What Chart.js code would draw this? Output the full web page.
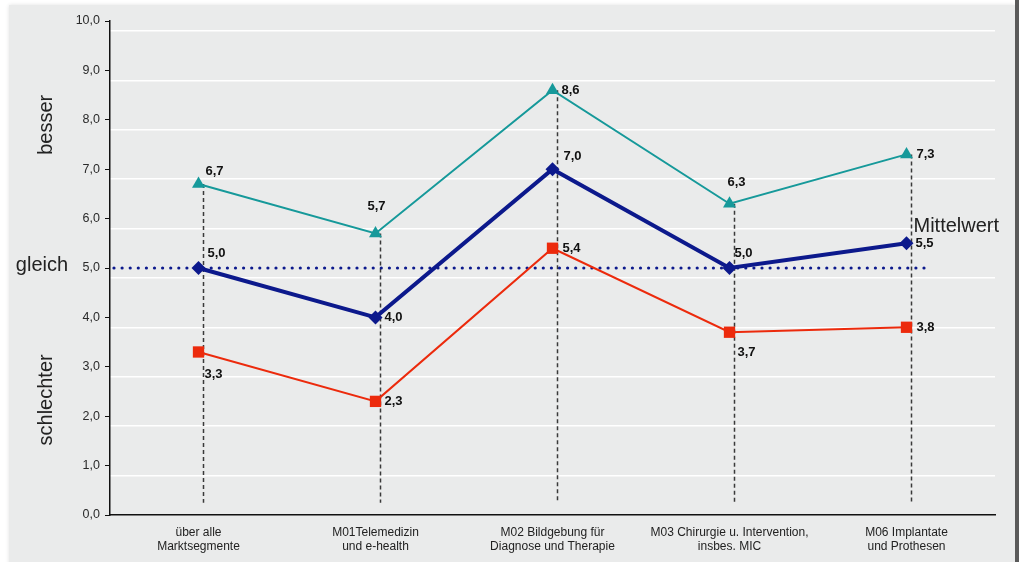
<!DOCTYPE html>
<html>
<head>
<meta charset="utf-8">
<script src="https://cdn.jsdelivr.net/npm/chart.js@4/dist/chart.umd.min.js"></script>
<style>
  html, body { margin: 0; padding: 0; background: #ffffff; }
  #wrap { width: 1019px; height: 562px; position: relative; }
</style>
</head>
<body>
<div id="wrap"><canvas id="c" width="1019" height="562"></canvas></div>
<script>
// Segments and scores
const categories = [
  ['über alle', 'Marktsegmente'],
  ['M01Telemedizin', 'und e-health'],
  ['M02 Bildgebung für', 'Diagnose und Therapie'],
  ['M03 Chirurgie u. Intervention,', 'insbes. MIC'],
  ['M06 Implantate', 'und Prothesen']
];
const besserWerte = [6.7, 5.7, 8.6, 6.3, 7.3];
const mittelWerte = [5.0, 4.0, 7.0, 5.0, 5.5];
const schlechterWerte = [3.3, 2.3, 5.4, 3.7, 3.8];
const yTicks = [0, 1, 2, 3, 4, 5, 6, 7, 8, 9, 10];
const gleichWert = 5.0;
const stuetzBasis = 0.25;

// value label placement relative to the marker (pixels)
const labelOffsets = {
  besser:     [[7, -13], [-8, -27], [9, 0], [-2, -21], [10, 0]],
  mittel:     [[9, -15], [9, 0], [11, -13], [5, -15], [9, 0]],
  schlechter: [[6, 22], [9, 0], [10, 0], [8, 20], [10, 0]]
};

const FONT = '"Liberation Sans", Arial, sans-serif';
const fmt = v => v.toFixed(1).replace('.', ',');

const TEAL = '#16999a';
const NAVY = '#0c198c';
const RED = '#ec2a0c';

// panel background with dark right edge
const panelPlugin = {
  id: 'panel',
  beforeDraw(chart) {
    const ctx = chart.ctx;
    ctx.save();
    ctx.fillStyle = '#ffffff';
    ctx.fillRect(0, 0, chart.width, chart.height);
    ctx.shadowColor = 'rgba(0,0,0,0.12)';
    ctx.shadowBlur = 4;
    ctx.fillStyle = '#eaebeb';
    ctx.fillRect(9, 5, 1006, 600);
    ctx.shadowColor = 'transparent';
    ctx.fillStyle = '#5a5a5a';
    ctx.fillRect(1015, 0, 4, chart.height);
    ctx.restore();
  }
};

// vertical dashed guides, reference line, side captions
const extrasPlugin = {
  id: 'extras',
  beforeDatasetsDraw(chart) {
    const ctx = chart.ctx;
    const x = chart.scales.x, y = chart.scales.y;
    ctx.save();
    // dashed guides from upper value down to the base
    ctx.strokeStyle = '#3a3a3a';
    ctx.lineWidth = 1.5;
    ctx.setLineDash([4, 3]);
    besserWerte.forEach((v, i) => {
      const px = Math.round(x.getPixelForValue(i)) + 4.5;
      ctx.beginPath();
      ctx.moveTo(px, y.getPixelForValue(v));
      ctx.lineTo(px, y.getPixelForValue(stuetzBasis));
      ctx.stroke();
    });
    // dotted "gleich" reference line
    const py = y.getPixelForValue(gleichWert);
    const xEnd = x.getPixelForValue(categories.length - 1) + 21;
    ctx.setLineDash([]);
    ctx.fillStyle = NAVY;
    for (let px = chart.chartArea.left + 4; px <= xEnd; px += 8.1) {
      ctx.beginPath();
      ctx.arc(px, py, 1.6, 0, Math.PI * 2);
      ctx.fill();
    }
    ctx.restore();
  },
  afterDraw(chart) {
    const ctx = chart.ctx;
    const x = chart.scales.x, y = chart.scales.y;
    ctx.save();
    ctx.fillStyle = '#222222';
    ctx.font = '20px ' + FONT;
    ctx.textAlign = 'center';
    ctx.textBaseline = 'middle';
    ctx.fillText('gleich', 42, y.getPixelForValue(gleichWert) - 3);
    ctx.save();
    ctx.translate(46, y.getPixelForValue(7.9));
    ctx.rotate(-Math.PI / 2);
    ctx.fillText('besser', 0, 0);
    ctx.restore();
    ctx.save();
    ctx.translate(46, y.getPixelForValue(2.33));
    ctx.rotate(-Math.PI / 2);
    ctx.fillText('schlechter', 0, 0);
    ctx.restore();
    ctx.textAlign = 'left';
    ctx.fillText('Mittelwert', x.getPixelForValue(categories.length - 1) + 7, y.getPixelForValue(5.85));

    // value labels
    ctx.font = 'bold 13px ' + FONT;
    ctx.fillStyle = '#111111';
    ctx.textAlign = 'left';
    const sets = [['besser', besserWerte], ['mittel', mittelWerte], ['schlechter', schlechterWerte]];
    sets.forEach(([key, vals]) => {
      vals.forEach((v, i) => {
        const off = labelOffsets[key][i];
        ctx.fillText(fmt(v), x.getPixelForValue(i) + off[0], y.getPixelForValue(v) + off[1]);
      });
    });
    ctx.restore();
  }
};

new Chart(document.getElementById('c'), {
  type: 'line',
  data: {
    labels: categories,
    datasets: [
      {
        label: 'Mittelwert',
        data: mittelWerte,
        yAxisID: 'y',
        borderColor: NAVY,
        backgroundColor: NAVY,
        borderWidth: 4,
        pointStyle: 'rectRot',
        pointRadius: 7,
        pointHoverRadius: 7,
        pointBorderWidth: 0,
        tension: 0,
        order: 1
      },
      {
        label: 'besser',
        data: besserWerte,
        yAxisID: 'y',
        borderColor: TEAL,
        backgroundColor: TEAL,
        borderWidth: 2,
        pointStyle: 'triangle',
        pointRadius: 7.5,
        pointHoverRadius: 7.5,
        pointBorderWidth: 0,
        tension: 0,
        order: 2
      },
      {
        label: 'schlechter',
        data: schlechterWerte,
        yAxisID: 'y',
        borderColor: RED,
        backgroundColor: RED,
        borderWidth: 2,
        pointStyle: 'rect',
        pointRadius: 8,
        pointHoverRadius: 8,
        pointBorderWidth: 0,
        tension: 0,
        order: 3
      }
    ]
  },
  options: {
    responsive: false,
    animation: false,
    devicePixelRatio: 1,
    layout: { padding: { left: 0, top: 21, right: 24, bottom: 0 } },
    plugins: { legend: { display: false }, tooltip: { enabled: false } },
    scales: {
      x: {
        offset: true,
        grid: { display: false, drawTicks: false },
        border: { display: true, color: '#111111', width: 1.5 },
        ticks: {
          color: '#222222',
          font: { family: FONT, size: 12 },
          padding: 10,
          maxRotation: 0,
          autoSkip: false
        },
        afterFit(s) { s.height = 47; }
      },
      yg: {
        position: 'left',
        min: 0.2,
        max: 10.2,
        afterBuildTicks(s) { s.ticks = yTicks.filter(v => v > 0).map(v => ({ value: v })); },
        grid: { color: '#ffffff', lineWidth: 1.5, drawTicks: false },
        border: { display: false },
        ticks: { display: false },
        afterFit(s) { s.width = 0; }
      },
      y: {
        position: 'left',
        min: 0,
        max: 10,
        afterBuildTicks(s) { s.ticks = yTicks.map(v => ({ value: v })); },
        grid: { drawOnChartArea: false, drawTicks: true, tickLength: 5, color: '#111111', lineWidth: 1 },
        border: { display: true, color: '#111111', width: 1.5 },
        ticks: {
          color: '#2a2a2a',
          font: { family: FONT, size: 12.5 },
          padding: 5,
          callback: v => fmt(v)
        },
        afterFit(s) { s.width = 110; }
      }
    }
  },
  plugins: [panelPlugin, extrasPlugin]
});
</script>
</body>
</html>
